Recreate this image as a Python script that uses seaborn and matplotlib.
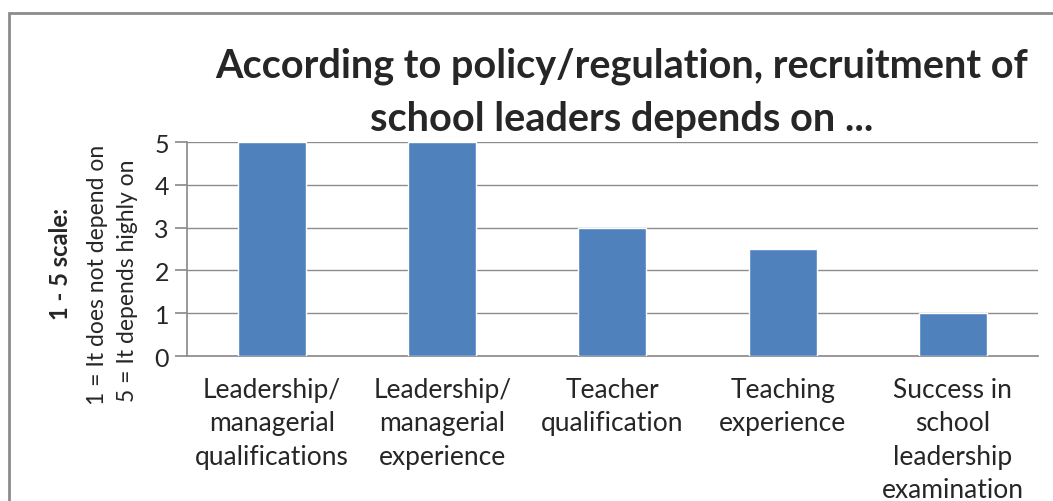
import matplotlib
matplotlib.use("Agg")
import matplotlib.pyplot as plt
import seaborn as sns
import pandas as pd
from matplotlib.patches import Rectangle

categories = ["Leadership/\nmanagerial\nqualifications", "Leadership/\nmanagerial\nexperience",
              "Teacher\nqualification", "Teaching\nexperience",
              "Success in\nschool\nleadership\nexamination"]
scores = [5, 5, 3, 2.5, 1]

sns.set_theme(style="white")
plt.rcParams["font.family"] = ["Lato", "DejaVu Sans"]

df = pd.DataFrame({"Factor": categories, "Score": scores})

fig = plt.figure(figsize=(10.53, 5.02), dpi=100)
ax = fig.add_axes([0.1776, 0.2888, 0.808, 0.4263])

sns.barplot(data=df, x="Factor", y="Score", color="#4F81BD", width=0.4,
            saturation=1, ax=ax, zorder=3)

ax.set_ylim(0, 5)
ax.set_yticks(range(6))
ax.yaxis.grid(True, color="#8C8C8C", linewidth=1, zorder=0)
for s in ["top", "right"]:
    ax.spines[s].set_visible(False)
ax.spines["left"].set_color("#8C8C8C")
ax.spines["bottom"].set_color("#8C8C8C")
ax.tick_params(axis="y", left=True, length=9, color="#8C8C8C", labelsize=18, pad=4)
ax.tick_params(axis="x", bottom=False, labelsize=19, pad=9)
for t in ax.get_xticklabels():
    t.set_linespacing(1.42)
ax.set_xlabel("")
ax.set_ylabel("")

fig.text(0.590, 0.815, "According to policy/regulation, recruitment of\nschool leaders depends on ...",
         ha="center", va="center", fontsize=28.5, fontweight="bold", linespacing=1.55)

fig.text(61 / 1053, 1 - 264 / 502, "1 - 5 scale:", rotation=90, ha="center", va="center",
         fontsize=17, fontweight="bold")
fig.text(98 / 1053, 1 - 275 / 502, "1 = It does not depend on", rotation=90, ha="center",
         va="center", fontsize=16.5)
fig.text(128 / 1053, 1 - 281 / 502, "5 = It depends highly on", rotation=90, ha="center",
         va="center", fontsize=16.5)

fig.patches.append(Rectangle((9 / 1053, -0.2), 1.2, 0.2 + 1 - 14 / 502, transform=fig.transFigure,
                             fill=False, edgecolor="#8C8C8C", linewidth=2))

fig.savefig("out.png", dpi=100)
